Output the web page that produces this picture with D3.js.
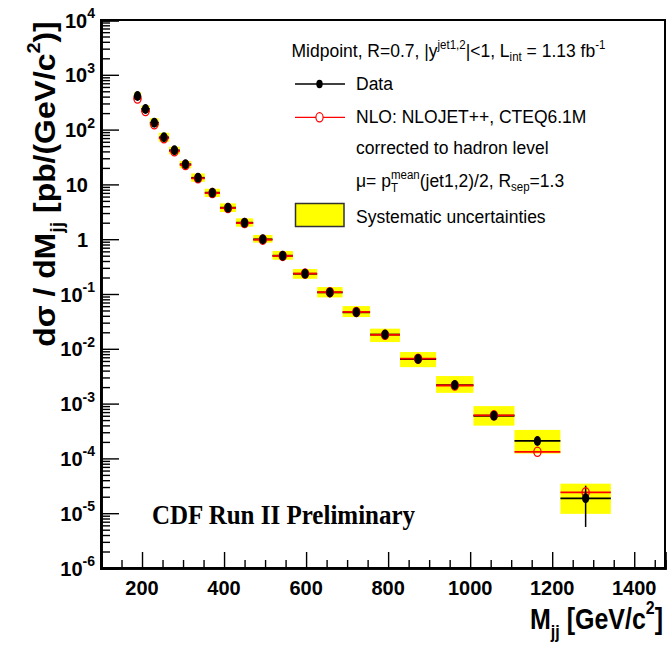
<!DOCTYPE html>
<html>
<head>
<meta charset="utf-8">
<script src="https://cdn.jsdelivr.net/npm/d3@7"></script>
<style>
  html, body { margin: 0; padding: 0; background: #fff; }
  svg { display: block; }
  text { font-family: "Liberation Sans", Arial, Helvetica, sans-serif; }
</style>
</head>
<body>
<svg id="chart" width="667" height="651"></svg>
<script>
// Dijet mass bins [GeV/c^2]
const binLo = [180, 198, 219, 241, 266, 292, 320, 353, 390, 429, 471, 518, 568, 627, 689, 756, 829, 917, 1008, 1108, 1220];
const binHi = [198, 219, 241, 266, 292, 320, 353, 390, 429, 471, 518, 568, 627, 689, 756, 829, 917, 1008, 1108, 1220, 1343];

// Measured cross section dσ/dMjj [pb/(GeV/c^2)]
const dataValues = [410, 238, 134, 72.3, 41.9, 23.3, 13.2, 7.06, 3.76, 2.0, 0.995, 0.50, 0.234, 0.107,
                    0.0463, 0.0182, 0.00652, 0.00218, 6.0e-4, 2.08e-4, 1.87e-5];
// Statistical uncertainty (fraction of value)
const statFrac = [0.01, 0.01, 0.01, 0.01, 0.01, 0.01, 0.01, 0.01, 0.01, 0.015, 0.02, 0.02, 0.03, 0.03,
                  0.04, 0.05, 0.06, 0.07, 0.09, 0.12, 0.70];
// NLO prediction (NLOJET++, CTEQ6.1M, hadron level)
const nloValues = [369, 218, 125, 69.4, 40.2, 22.6, 12.9, 6.95, 3.70, 1.97, 0.98, 0.495, 0.236, 0.108,
                   0.0470, 0.0180, 0.0066, 0.00214, 6.1e-4, 1.32e-4, 2.4e-5];
// Systematic uncertainties [%]
const sysUp   = [16, 16, 20, 21, 16, 15, 20, 18, 20, 20, 20, 22, 22, 25, 30, 28, 34, 46, 50, 59, 85];
const sysDown = [14, 14, 15.5, 17, 15.5, 15.5, 15.5, 16.5, 16.5, 15.5, 13, 15.5, 19, 19, 18, 27, 29, 28, 34, 41, 48];

// Axis ticks
const xMajor = [200, 400, 600, 800, 1000, 1200, 1400];
const xMinor = d3.range(150, 1475, 50).filter(v => !xMajor.includes(v));
const yExp = [-6, -5, -4, -3, -2, -1, 0, 1, 2, 3, 4];

const svg = d3.select("#chart");
const x = d3.scaleLinear().domain([100, 1475]).range([101, 665]);
const y = d3.scaleLog().domain([1e-6, 1e4]).range([568, 20]);

const [x0, x1] = x.range();
const [y0, y1] = [y.range()[1], y.range()[0]];

// text helper with a slight vertical stretch
function stretchedText(parent, tx, ty, sy, anchor) {
  return parent.append("g")
    .attr("transform", `translate(${tx},${ty}) scale(1,${sy})`)
    .append("text")
    .attr("text-anchor", anchor || "start");
}

// ---- Systematic uncertainty boxes ----
const bins = dataValues.map((d, i) => ({
  lo: binLo[i], hi: binHi[i], mid: (binLo[i] + binHi[i]) / 2,
  d, nlo: nloValues[i], stat: statFrac[i], up: sysUp[i], dn: sysDown[i]
}));

const gData = svg.append("g");
gData.selectAll("rect.sys").data(bins).join("rect")
  .attr("class", "sys")
  .attr("x", b => x(b.lo))
  .attr("width", b => x(b.hi) - x(b.lo))
  .attr("y", b => y(b.d * (1 + b.up / 100)))
  .attr("height", b => y(b.d * (1 - b.dn / 100)) - y(b.d * (1 + b.up / 100)))
  .attr("fill", "#ffff00");

// data horizontal bars (bin width)
gData.selectAll("line.dh").data(bins).join("line")
  .attr("x1", b => x(b.lo)).attr("x2", b => x(b.hi))
  .attr("y1", b => y(b.d)).attr("y2", b => y(b.d))
  .attr("stroke", "#000").attr("stroke-width", 1.8);

// NLO horizontal bars
gData.selectAll("line.nh").data(bins).join("line")
  .attr("x1", b => x(b.lo)).attr("x2", b => x(b.hi))
  .attr("y1", b => y(b.nlo)).attr("y2", b => y(b.nlo))
  .attr("stroke", "#ff0000").attr("stroke-width", 1.8);

// statistical error bars
gData.selectAll("line.dv").data(bins).join("line")
  .attr("x1", b => x(b.mid)).attr("x2", b => x(b.mid))
  .attr("y1", b => y(b.d * (1 + b.stat))).attr("y2", b => y(b.d * (1 - b.stat)))
  .attr("stroke", "#000").attr("stroke-width", 1.5);

// NLO open markers
gData.selectAll("ellipse.nlo").data(bins).join("ellipse")
  .attr("cx", b => x(b.mid)).attr("cy", b => y(b.nlo))
  .attr("rx", 3.6).attr("ry", 4.6)
  .attr("fill", "none").attr("stroke", "#ff0000").attr("stroke-width", 1.3);

// data markers
gData.selectAll("ellipse.dat").data(bins).join("ellipse")
  .attr("cx", b => x(b.mid)).attr("cy", b => y(b.d))
  .attr("rx", 3.6).attr("ry", 5)
  .attr("fill", "#000");

// ---- Frame and axes ----
svg.append("rect")
  .attr("x", x0).attr("y", y0).attr("width", x1 - x0).attr("height", y1 - y0)
  .attr("fill", "none").attr("stroke", "#000").attr("stroke-width", 2);

const xAxisMajor = svg.append("g").attr("transform", `translate(0,${y1})`)
  .call(d3.axisBottom(x).tickValues(xMajor).tickSize(-16).tickFormat(""));
const xAxisMinor = svg.append("g").attr("transform", `translate(0,${y1})`)
  .call(d3.axisBottom(x).tickValues(xMinor).tickSize(-8).tickFormat(""));
const yAxisMajor = svg.append("g").attr("transform", `translate(${x0},0)`)
  .call(d3.axisLeft(y).tickValues(yExp.map(e => Math.pow(10, e))).tickSize(-18).tickFormat(""));
const yMinorVals = [];
yExp.slice(0, -1).forEach(e => { for (let k = 2; k <= 9; k++) yMinorVals.push(k * Math.pow(10, e)); });
const yAxisMinor = svg.append("g").attr("transform", `translate(${x0},0)`)
  .call(d3.axisLeft(y).tickValues(yMinorVals).tickSize(-9).tickFormat(""));

[xAxisMajor, xAxisMinor, yAxisMajor, yAxisMinor].forEach(g => {
  g.select(".domain").attr("stroke-width", 2.6).attr("stroke", "#000");
  g.selectAll(".tick line").attr("stroke", "#000").attr("stroke-width", 1.4);
});

// x tick labels
xMajor.forEach(v => {
  stretchedText(svg, x(v), 595, 1.05, "middle")
    .attr("font-size", 20).attr("font-weight", "bold").text(v);
});

// y tick labels
yExp.forEach(e => {
  const yy = y(Math.pow(10, e)) + 7.5;
  if (e === 0 || e === 1) {
    stretchedText(svg, 88, yy, 1.05, "end")
      .attr("font-size", 20).attr("font-weight", "bold").text(e === 0 ? "1" : "10");
  } else {
    const t = stretchedText(svg, 95, yy, 1.05, "end")
      .attr("font-size", 20).attr("font-weight", "bold");
    t.append("tspan").text("10");
    t.append("tspan").attr("font-size", 14).attr("dy", -9).text(String(e));
  }
});

// axis titles
const xt = stretchedText(svg, 530, 629, 1.15, "start").attr("font-size", 25).attr("font-weight", "bold");
xt.append("tspan").text("M");
xt.append("tspan").attr("font-size", 16).attr("dy", 8).text("jj");
xt.append("tspan").attr("dy", -8).text(" [GeV/c");
xt.append("tspan").attr("font-size", 16).attr("dy", -13).text("2");
xt.append("tspan").attr("dy", 13).text("]");

const yt = svg.append("g").attr("transform", "translate(55,184) rotate(-90) scale(1.1,1)")
  .append("text").attr("text-anchor", "middle").attr("font-size", 29).attr("font-weight", "bold");
yt.append("tspan").text("dσ / dM");
yt.append("tspan").attr("font-size", 18).attr("dy", 8).text("jj");
yt.append("tspan").attr("dy", -8).text(" [pb/(GeV/c");
yt.append("tspan").attr("font-size", 18).attr("dy", -15).text("2");
yt.append("tspan").attr("dy", 15).text(")]");

// ---- Legend ----
const lg = svg.append("g");
const l1 = stretchedText(lg, 291.5, 57, 1.05).attr("font-size", 17.5);
l1.append("tspan").text("Midpoint, R=0.7, |y");
l1.append("tspan").attr("font-size", 11.5).attr("dy", -8).text("jet1,2");
l1.append("tspan").attr("dy", 8).text("|<1, L");
l1.append("tspan").attr("font-size", 11.5).attr("dy", 4).text("int");
l1.append("tspan").attr("dy", -4).text(" = 1.13 fb");
l1.append("tspan").attr("font-size", 11.5).attr("dy", -8).text("-1");

// Data entry
lg.append("line").attr("x1", 295).attr("x2", 345).attr("y1", 84).attr("y2", 84)
  .attr("stroke", "#000").attr("stroke-width", 1.3);
lg.append("ellipse").attr("cx", 319.5).attr("cy", 84).attr("rx", 3.2).attr("ry", 4.2).attr("fill", "#000");
stretchedText(lg, 356, 89.5, 1.05).attr("font-size", 17.5).text("Data");

// NLO entry
lg.append("line").attr("x1", 295).attr("x2", 345).attr("y1", 117.3).attr("y2", 117.3)
  .attr("stroke", "#ff0000").attr("stroke-width", 1.3);
lg.append("ellipse").attr("cx", 319.5).attr("cy", 117.3).attr("rx", 3.6).attr("ry", 4.6)
  .attr("fill", "#fff").attr("stroke", "#ff0000").attr("stroke-width", 1.2);
stretchedText(lg, 356, 123, 1.05).attr("font-size", 17.5).text("NLO: NLOJET++, CTEQ6.1M");
stretchedText(lg, 356, 153.5, 1.05).attr("font-size", 17.5).text("corrected to hadron level");

const l4 = stretchedText(lg, 356, 187, 1.05).attr("font-size", 17.5);
l4.append("tspan").text("μ= p");
l4.append("tspan").attr("font-size", 11.5).attr("dy", 5).text("T");
l4.append("tspan").attr("font-size", 11.5).attr("dx", -7).attr("dy", -13).text("mean");
l4.append("tspan").attr("dy", 8).text("(jet1,2)/2, R");
l4.append("tspan").attr("font-size", 11.5).attr("dy", 4).text("sep");
l4.append("tspan").attr("dy", -4).text("=1.3");

// Systematic entry
lg.append("rect").attr("x", 295.5).attr("y", 203.5).attr("width", 48.5).attr("height", 23)
  .attr("fill", "#ffff00").attr("stroke", "#333").attr("stroke-width", 1.5);
stretchedText(lg, 356, 223, 1.05).attr("font-size", 17.5).text("Systematic uncertainties");

// Experiment label
stretchedText(svg, 152, 524, 1.1).attr("font-size", 25).attr("font-weight", "bold")
  .style("font-family", "'Liberation Serif', 'Times New Roman', serif")
  .text("CDF Run II Preliminary");
</script>
</body>
</html>
